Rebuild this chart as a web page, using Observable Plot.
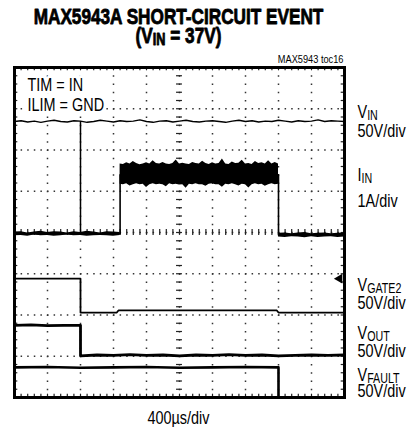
<!DOCTYPE html>
<html><head><meta charset="utf-8">
<script src="https://cdn.jsdelivr.net/npm/d3@7"></script>
<script src="https://cdn.jsdelivr.net/npm/@observablehq/plot@0.6"></script>
<style>html,body{margin:0;padding:0;background:#fff;} svg{display:block;}</style>
</head><body><div id="chart"></div>
<script>
// ---------- data (divisions: x 0..10 at 400us/div, y 0..8 screen divisions) ----------
const xDivs = [0, 10];
const yDivs = [0, 8];
const gridX = [1, 2, 3, 4, 5, 6, 7, 8, 9];
const gridY = [1, 2, 3, 4, 5, 6, 7];

// V_IN trace (sampled every 0.2 div)
const vinT = d3.range(0, 10.001, 0.2);
const vinY = [6.69,6.71,6.68,6.70,6.67,6.70,6.72,6.69,6.68,6.71,
              6.70,6.67,6.69,6.72,6.70,6.68,6.71,6.69,6.70,6.73,
              6.69,6.67,6.70,6.71,6.68,6.70,6.72,6.69,6.68,6.70,
              6.71,6.69,6.67,6.70,6.72,6.69,6.71,6.68,6.70,6.69,
              6.72,6.70,6.68,6.71,6.69,6.70,6.73,6.69,6.71,6.70,6.69];
const vinGlitchT = 2.0, vinGlitchLow = 3.98;

// I_IN trace: baseline before, high band (short circuit), baseline after
const iinPreT = d3.range(0, 3.201, 0.2);
const iinPreHi = [4.01,4.02,3.99,4.01,4.03,4.00,4.02,4.01,3.99,4.02,4.00,4.03,4.01,3.99,4.02,4.01,4.00];
const iinPreLo = [3.92,3.93,3.91,3.94,3.92,3.93,3.91,3.92,3.94,3.92,3.93,3.91,3.92,3.93,3.92,3.91,3.93];
const iinHighT = d3.range(3.2, 8.0001, 0.1);
const iinHighHi = [5.66,5.65,5.69,5.66,5.72,5.67,5.64,5.66,5.69,5.66,
                   5.74,5.67,5.66,5.70,5.66,5.65,5.67,5.76,5.66,5.68,
                   5.66,5.65,5.70,5.67,5.66,5.73,5.67,5.65,5.69,5.66,
                   5.67,5.78,5.66,5.65,5.71,5.67,5.68,5.75,5.66,5.67,
                   5.65,5.72,5.67,5.69,5.66,5.74,5.66,5.70,5.66];
const iinHighLo = [5.17,5.16,5.18,5.13,5.16,5.18,5.16,5.17,5.09,5.16,
                   5.18,5.16,5.17,5.16,5.11,5.18,5.16,5.17,5.15,5.16,
                   5.07,5.17,5.16,5.18,5.16,5.16,5.12,5.17,5.18,5.16,
                   5.16,5.10,5.17,5.16,5.18,5.16,5.13,5.17,5.16,5.08,
                   5.16,5.18,5.16,5.17,5.12,5.16,5.18,5.16,5.17];
const iinPostT = d3.range(8.0, 10.001, 0.2);
const iinPostHi = [3.98,3.99,3.97,3.99,4.00,3.97,3.98,3.99,3.97,3.98,3.99];
const iinPostLo = [3.89,3.88,3.90,3.89,3.87,3.90,3.88,3.89,3.90,3.88,3.89];
const iinStepT = [0, 3.2, 3.2, 8.0, 8.0, 10];
const iinStepY = [3.97, 3.97, 5.4, 5.4, 3.94, 3.94];

// V_GATE2
const vgateT = [0, 2.0, 2.0, 3.1, 3.15, 7.95, 8.0, 10];
const vgateY = [2.88, 2.88, 2.06, 2.06, 2.11, 2.11, 2.06, 2.06];
const vgateMarker = [2.88];

// V_OUT
const voutT = [0,0.5,1.0,1.5,2.0,2.0,2.5,3.0,3.5,4.0,4.5,5.0,5.5,6.0,6.5,7.0,7.5,8.0,8.5,9.0,9.5,10];
const voutY = [1.75,1.76,1.74,1.75,1.75,1.01,1.03,1.02,1.04,1.02,1.03,1.01,1.03,1.02,1.04,1.02,1.03,1.01,1.02,1.03,1.02,1.03];

// V_FAULT
const vfaultT = [0,1,2,3,4,5,6,7,8,8,10];
const vfaultY = [0.73,0.74,0.72,0.73,0.74,0.72,0.73,0.74,0.73,0,0];

// texts
const titleLines = ["MAX5943A SHORT-CIRCUIT EVENT", "(V_{IN} = 37V)"];
const tocLabel = "MAX5943 toc16";
const noteLines = ["TIM = IN", "ILIM = GND"];
const traceLabels = ["V_{IN}", "50V/div", "I_{IN}", "1A/div", "V_{GATE2}", "50V/div", "V_{OUT}", "50V/div", "V_{FAULT}", "50V/div"];
const xLabel = "400\u00b5s/div";

// ---------- layout ----------
const W = 408, H = 427, ML = 14, MR = 64, MT = 67, MB = 30;
const pxX = p => (p - ML) / ((W - ML - MR) / 10);
const pxY = p => ((H - MB) - p) / ((H - MT - MB) / 8);
const FONT = "'Liberation Sans',Arial,sans-serif";
const LBL = 19;
const traceLabelPos = [[357,117],[357,136],[357,180],[357,206.5],[357,290.5],[357,308.3],[357,338.3],[357,356.7],[357,380],[357,396.7]];

// ---------- build rows ----------
const vinRows = [];
vinT.forEach((t, i) => {
  if (Math.abs(t - vinGlitchT) < 1e-9) {
    vinRows.push({t, y: vinY[i]}, {t, y: vinGlitchLow}, {t, y: vinY[i]});
  } else vinRows.push({t, y: vinY[i]});
});
const band = [
  ...iinPreT.map((t, i) => ({t, lo: iinPreLo[i], hi: iinPreHi[i], s: "a"})),
  ...iinHighT.map((t, i) => ({t, lo: iinHighLo[i], hi: iinHighHi[i], s: "b"})),
  ...iinPostT.map((t, i) => ({t, lo: iinPostLo[i], hi: iinPostHi[i], s: "c"}))
];
const iinStep = iinStepT.map((t, i) => ({t, y: iinStepY[i]}));
const vgate = vgateT.map((t, i) => ({t, y: vgateY[i]}));
const vout = voutT.map((t, i) => ({t, y: voutY[i]}));
const vfault = vfaultT.map((t, i) => ({t, y: vfaultY[i]}));
const minorX = d3.range(0.2, 9.9, 0.2);
const minorY = d3.range(0.2, 7.9, 0.2);
const tick = c => ({stroke: "#222", strokeWidth: 1.2, ...c});

const textRows = [
  {s: titleLines[0], p: [178, 23.5], size: 21.5, w: "bold", a: "middle", heavy: true},
  {s: titleLines[1], p: [178, 42], size: 21.5, w: "bold", a: "middle", heavy: true},
  {s: tocLabel, p: [343, 62], size: 11, w: "normal", a: "end"},
  {s: xLabel, p: [178, 423], size: LBL, w: "normal", a: "middle"},
  ...traceLabels.map((s, i) => ({s, p: traceLabelPos[i], size: LBL, w: "normal", a: "start"}))
];
const noteRows = noteLines.map((s, i) => ({s, p: [27, i ? 110.7 : 90]}));

const textMarks = textRows.map(r => Plot.text([r], {
  x: d => pxX(d.p[0]), y: d => pxY(d.p[1]), text: d => d.s,
  fontSize: r.size, fontWeight: r.w, textAnchor: r.a, lineAnchor: "bottom", fill: "black", fontFamily: FONT,
  stroke: r.heavy ? "black" : "none", strokeWidth: r.heavy ? 0.8 : 0
}));

const plot = Plot.plot({
  width: W, height: H, marginLeft: ML, marginRight: MR, marginTop: MT, marginBottom: MB,
  x: {domain: xDivs, axis: null},
  y: {domain: yDivs, axis: null},
  style: {fontFamily: FONT, background: "white", overflow: "visible"},
  marks: [
    Plot.ruleY(gridY, {stroke: "#333", strokeWidth: 1.5, strokeDasharray: "1.5,5.1"}),
    Plot.ruleX(gridX, {stroke: "#333", strokeWidth: 1.5, strokeDasharray: "1.5,6.75"}),
    Plot.ruleX(minorX, tick({x: d => d, y1: 4 - 0.07, y2: 4 + 0.07})),
    Plot.ruleY(minorY, tick({y: d => d, x1: 5 - 0.09, x2: 5 + 0.09})),
    Plot.ruleX(minorX, tick({x: d => d, y1: 8, y2: 7.92})),
    Plot.ruleX(minorX, tick({x: d => d, y1: 0, y2: 0.08})),
    Plot.ruleY(minorY, tick({y: d => d, x1: 0, x2: 0.1})),
    Plot.ruleY(minorY, tick({y: d => d, x1: 10, x2: 9.9})),
    // traces
    Plot.line(vinRows, {x: "t", y: "y", stroke: "black", strokeWidth: 1.5, curve: "linear"}),
    Plot.areaY(band, {x: "t", y1: "lo", y2: "hi", z: "s", fill: "black", curve: "linear"}),
    Plot.line(iinStep, {x: "t", y: "y", stroke: "black", strokeWidth: 1.6}),
    Plot.line(vgate, {x: "t", y: "y", stroke: "black", strokeWidth: 1.8}),
    Plot.line(vout, {x: "t", y: "y", stroke: "black", strokeWidth: 2.8}),
    Plot.line(vfault, {x: "t", y: "y", stroke: "black", strokeWidth: 2.6}),
    Plot.dot(vgateMarker, {x: () => 10, y: d => d, symbol: "triangle", rotate: -90, r: 3.6, fill: "black", stroke: "none", dx: -5}),
    // notes with white background
    Plot.text(noteRows, {x: d => pxX(d.p[0]), y: d => pxY(d.p[1]), text: d => d.s, fontSize: LBL, textAnchor: "start",
      lineAnchor: "bottom", fill: "black", stroke: "white", strokeWidth: 6, fontFamily: FONT}),
    ...textMarks,
    Plot.frame({stroke: "black", strokeWidth: 3})
  ]
});
document.getElementById("chart").appendChild(plot);

// subscripts "_{...}" and condensed lettering
const NS = "http://www.w3.org/2000/svg";
d3.select(plot).selectAll("text").each(function () {
  const fs = parseFloat(getComputedStyle(this).fontSize) || 16;
  const sx = fs > 20 ? 0.8 : fs < 14 ? 0.84 : 0.76;
  const tr = this.getAttribute("transform") || "";
  this.setAttribute("transform", tr + ` scale(${sx},1)`);
  const s = this.textContent;
  if (!s.includes("_{")) return;
  const subSize = fs * 0.74, shift = fs * 0.12;
  const parts = s.split(/(_\{[^}]*\})/).filter(p => p);
  this.textContent = "";
  let down = false;
  for (const p of parts) {
    const ts = document.createElementNS(NS, "tspan");
    if (p.startsWith("_{")) {
      ts.textContent = p.slice(2, -1);
      ts.setAttribute("font-size", subSize);
      ts.setAttribute("dy", shift);
      down = true;
    } else {
      ts.textContent = p;
      if (down) { ts.setAttribute("dy", -shift); down = false; }
    }
    this.appendChild(ts);
  }
});
</script></body></html>
